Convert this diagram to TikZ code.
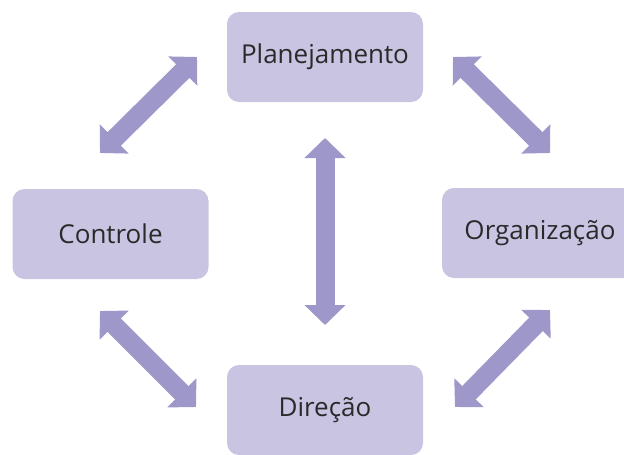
\documentclass[tikz,border=0pt]{standalone}
\usepackage{fontspec}
\setmainfont{Open Sans}
\usepackage{tikz}
\usetikzlibrary{arrows.meta,positioning,calc}
\definecolor{boxfill}{HTML}{C8C4E2}
\definecolor{arrfill}{HTML}{9D97CA}
\definecolor{txt}{HTML}{2A2A2A}
\tikzset{
  box/.style={fill=boxfill, rounded corners=12pt, minimum width=196pt, minimum height=90pt, inner sep=0pt,
              text=txt, font=\fontsize{26}{30}\selectfont},
  arr/.style={{Triangle[length=20pt,width=40pt]}-{Triangle[length=20pt,width=40pt]}, line width=19pt, draw=arrfill, fill=arrfill}
}

\begin{document}
\begin{tikzpicture}[x=1pt, y=-1pt]
\clip (0,0) rectangle (624,455);
\node[box] (plan) at (325,57) {Planejamento};
\node[box] (ctrl) at (110.5,234) {Controle};
\node[box] (org) at (540,233) {Organização};
\node[box] (dir) at (325,410) {Direção};
\coordinate (tl1) at (100,153); \coordinate (tl2) at (197,57);
\coordinate (tr1) at (453,57); \coordinate (tr2) at (550,153);
\coordinate (bl1) at (100,311); \coordinate (bl2) at (196,407);
\coordinate (br1) at (550,310); \coordinate (br2) at (455,407);
\coordinate (v1) at (325,138); \coordinate (v2) at (325,325);
\draw[arr] (tl1) -- (tl2); \draw[arr] (tr1) -- (tr2);
\draw[arr] (bl1) -- (bl2); \draw[arr] (br1) -- (br2);
\draw[arr] (v1) -- (v2);
\end{tikzpicture}
\end{document}
